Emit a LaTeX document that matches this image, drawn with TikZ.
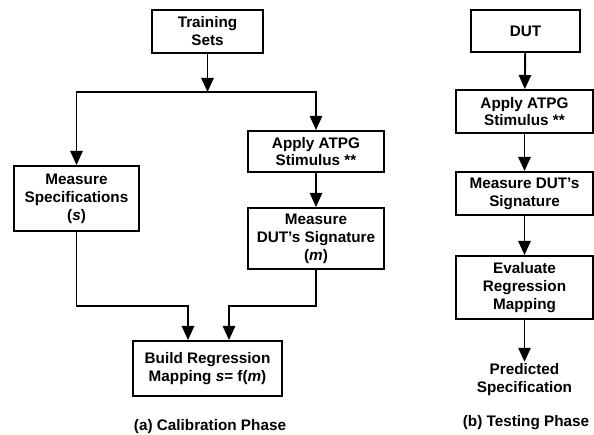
\documentclass[tikz,border=0pt]{standalone}
\usepackage{fontspec}
\setmainfont{Liberation Sans}
\usepackage{tikz}
\usetikzlibrary{arrows.meta}
\tikzset{
  blk/.style={draw=black, line width=1.1pt, fill=white,
    font=\fontsize{8.7}{10.2}\selectfont\bfseries,
    inner sep=2pt, align=center},
  lbl/.style={font=\fontsize{8.7}{10.2}\selectfont\bfseries, inner sep=1pt, align=center},
  flow/.style={-{Triangle[length=8pt,width=7pt]}, line width=1.1pt},
}

\begin{document}
\begin{tikzpicture}[x=0.02cm, y=-0.02cm]
  \useasboundingbox (0,0) rectangle (594,435);

  % (a) calibration phase
  \node[blk, minimum width=2.22cm, minimum height=0.86cm] (train) at (207.5,31.5) {Training\\Sets};
  \node[blk, minimum width=2.50cm, minimum height=1.30cm] (spec)  at (76.5,198.5) {Measure\\Specifications\\(\textit{s})};
  \node[blk, minimum width=2.72cm, minimum height=0.82cm] (applyL) at (316,151.5) {Apply ATPG\\Stimulus **};
  \node[blk, minimum width=2.72cm, minimum height=1.22cm] (sigL)  at (316,238.5) {Measure\\DUT’s Signature\\(\textit{m})};
  \node[blk, minimum width=2.98cm, minimum height=1.10cm] (build) at (207.5,368.5) {Build Regression\\Mapping \textit{s}= f(\textit{m})};
  \node[lbl] (capA) at (210,427) {(a) Calibration Phase};

  \coordinate (split) at (207.5,92);
  \coordinate (joinL) at (188,306);
  \coordinate (joinR) at (229,306);

  \draw[flow] (train) -- (split);
  \draw[flow] (split) -| (spec);
  \draw[flow] (split) -| (applyL);
  \draw[flow] (applyL) -- (sigL);
  \draw[flow] (spec) |- (joinL) -- (joinL |- build.north);
  \draw[flow] (sigL) |- (joinR) -- (joinR |- build.north);

  % (b) testing phase
  \node[blk, minimum width=2.18cm, minimum height=0.84cm] (dut)    at (525.5,31) {DUT};
  \node[blk, minimum width=2.74cm, minimum height=0.86cm] (applyR) at (524.5,111.5) {Apply ATPG\\Stimulus **};
  \node[blk, minimum width=2.74cm, minimum height=0.86cm] (sigR)   at (524.5,193.5) {Measure DUT’s\\Signature};
  \node[blk, minimum width=2.74cm, minimum height=1.26cm] (eval)   at (524.5,287.5) {Evaluate\\Regression\\Mapping};
  \node[lbl] (pred) at (524.5,380) {Predicted\\Specification};
  \node[lbl] (capB) at (526,423) {(b) Testing Phase};

  \draw[flow] (dut) -- (applyR);
  \draw[flow] (applyR) -- (sigR);
  \draw[flow] (sigR) -- (eval);
  \draw[flow] (eval) -- (pred);

\end{tikzpicture}
\end{document}
